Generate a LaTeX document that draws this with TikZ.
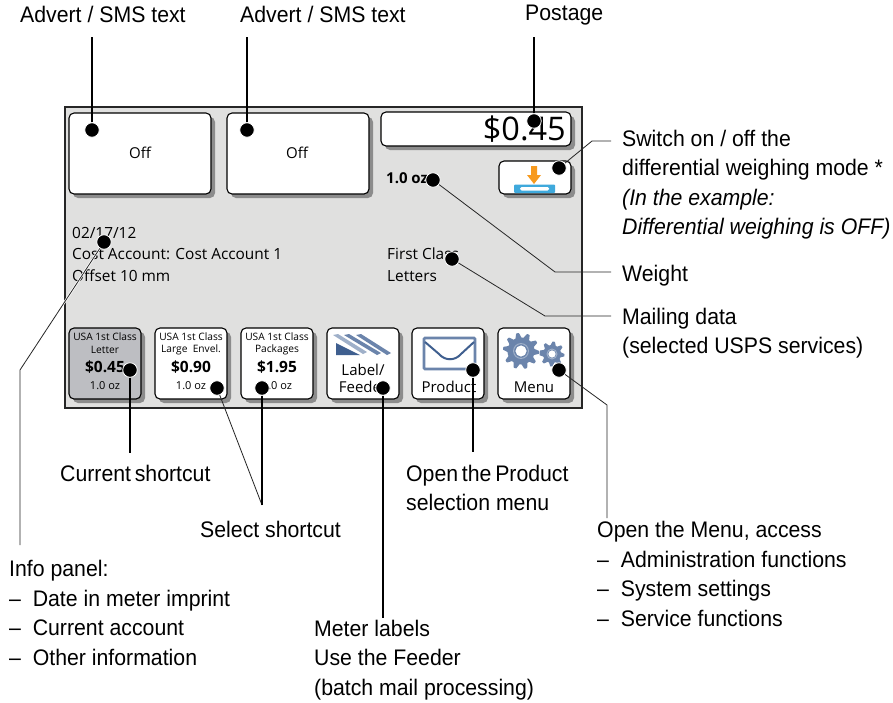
\documentclass[tikz,border=0pt]{standalone}
\usepackage{fontspec}
\setmainfont{Liberation Sans}
\newfontfamily\labelfont[FakeStretch=0.945]{Liberation Sans}
\newfontfamily\screenfont{Open Sans}
\definecolor{panelgrey}{HTML}{E0E0DF}
\definecolor{shadowgrey}{HTML}{8C8C8C}
\definecolor{selgrey}{HTML}{BDBEC2}
\definecolor{iconblue}{HTML}{6B84AB}
\definecolor{iconlight}{HTML}{9FB0C9}
\definecolor{icondark}{HTML}{3F5F8F}
\definecolor{trayblue}{HTML}{3FA9DC}
\definecolor{arroworange}{HTML}{F79A1E}
\tikzset{
  call/.style={font=\labelfont\fontsize{22.5}{29.5}\selectfont,align=left,inner sep=0pt,anchor=west},
  scr/.style={font=\screenfont\fontsize{#1}{#1}\selectfont,inner sep=0pt},
  scr/.default=14,
  scrb/.style={font=\screenfont\bfseries\fontsize{#1}{#1}\selectfont,inner sep=0pt},
  btn/.style={draw=black,line width=1.1pt,rounded corners=5pt,fill=white},
  shad/.style={fill=shadowgrey,rounded corners=5pt},
  dotmark/.style={circle,fill=black,draw=white,line width=0.8pt,minimum size=14.5pt,inner sep=0pt},
  leadthick/.style={draw=black,line width=1.3pt},
  leadthin/.style={draw=black!85,line width=0.8pt},
}
\newcommand{\sbtn}[5][white]{%
  \fill[shad] (#2+4,#3+4) rectangle (#4+4,#5+4);
  \draw[btn,fill=#1] (#2,#3) rectangle (#4,#5);}
\newcommand{\gearshape}[5]{%
  \fill[iconblue,even odd rule] plot[smooth cycle,tension=0.25,samples=#5*4+1,domain=0:360-360/(#5*4),variable=\a]
    ({#1+(#3-(#3-#4)*(mod(round(\a/(360/(#5*4))),4)>1))*cos(\a)},{#2+(#3-(#3-#4)*(mod(round(\a/(360/(#5*4))),4)>1))*sin(\a)})
    (#1+#4*0.42,#2) arc[start angle=0,end angle=360,radius=#4*0.42];
  \draw[iconlight,line width=1pt] (#1,#2) circle[radius=#4*0.55];}
\begin{document}
\begin{tikzpicture}[x=1pt,y=-1pt]
\useasboundingbox (0,0) rectangle (893,702);
\fill[white] (0,0) rectangle (893,702);
% panel
\draw[fill=panelgrey,draw=black!85,line width=2pt] (65,107) rectangle (582,408);
% top buttons
\sbtn{69}{113}{211}{194}
\sbtn{227}{113}{369}{194}
\sbtn{381}{112}{571}{146}
\sbtn{499}{161}{571}{194}
\node[scr=15] (off1) at (140,153) {Off};
\node[scr=15] (off2) at (297,153) {Off};
\node[scr=32.5,anchor=east] (postage) at (566,129) {\$0.45};
% weigh icon
\fill[arroworange] (531,166) -- (537,166) -- (537,175) -- (541,175) -- (534,184) -- (527,175) -- (531,175) -- cycle;
\fill[trayblue,rounded corners=1pt] (514,184.5) rectangle (555,193);
\fill[white,rounded corners=1.5pt] (520,187) rectangle (549,190.5);
% info
\node[scr=15.4,anchor=west] (date) at (72,233) {02/17/12};
\node[scr=15.4,anchor=west] (acct) at (72,254) {Cost Account: Cost Account 1};
\node[scr=15.4,anchor=west] (offs) at (72,276) {Offset 10 mm};
\node[scrb=15,anchor=west] (wt) at (386,178) {1.0 oz};
\node[scr=15.4,anchor=west] (fc) at (387,254) {First Class};
\node[scr=15.4,anchor=west] (lt) at (387,276) {Letters};
% shortcuts
\sbtn[selgrey]{69}{328}{141}{399}
\sbtn{155}{328}{227}{399}
\sbtn{241}{328}{313}{399}
\sbtn{327}{328}{399}{399}
\sbtn{412}{328}{484}{399}
\sbtn{498}{328}{570}{399}
\node[scr=10.2] (s1a) at (105,337) {USA 1st Class};
\node[scr=10.2] (s1b) at (105,350) {Letter};
\node[scrb=15.5] (s1c) at (105,367) {\$0.45};
\node[scr=11] (s1d) at (105,386) {1.0 oz};
\node[scr=10.2] (s2a) at (191,337) {USA 1st Class};
\node[scr=10.2] (s2b) at (191,350) {Large\ \ Envel.};
\node[scrb=15.5] (s2c) at (191,367) {\$0.90};
\node[scr=11] (s2d) at (191,386) {1.0 oz};
\node[scr=10.2] (s3a) at (277,337) {USA 1st Class};
\node[scr=10.2] (s3b) at (277,350) {Packages};
\node[scrb=15.5] (s3c) at (277,367) {\$1.95};
\node[scr=11] (s3d) at (277,386) {1.0 oz};
% label icon
\fill[iconlight] (333,335) -- (338,334) -- (367,352) -- (363,354) -- cycle;
\fill[iconblue] (344,335) -- (349,334) -- (381,353) -- (377,355) -- cycle;
\fill[iconblue] (356,335) -- (361,334) -- (391,353) -- (387,355) -- cycle;
\fill[icondark] (336,343) -- (336,355) -- (360,355) -- cycle;
\node[scr=15] (lab1) at (363,370) {Label/};
\node[scr=15] (lab2) at (363,387) {Feeder};
% product icon
\draw[iconblue,line width=2.6pt,rounded corners=1pt,fill=white] (424,338) rectangle (475,369);
\draw[icondark,line width=2pt,line join=round] (425,342) -- (439,354) .. controls (445,361) and (455,361) .. (461,354) -- (474,342);
\node[scr=15] (prod) at (449,387) {Product};
% menu icon
\gearshape{521}{351}{18}{13.5}{10}
\gearshape{552}{354}{12.5}{9}{8}
\node[scr=15] (menu) at (534,387) {Menu};
% dots
\node[dotmark] (d1) at (92,130) {};
\node[dotmark] (d2) at (247,130) {};
\node[dotmark] (d3) at (534,121) {};
\node[dotmark] (d4) at (559,168) {};
\node[dotmark] (d5) at (433,180) {};
\node[dotmark] (d6) at (452,259) {};
\node[dotmark] (d7) at (104,242) {};
\node[dotmark] (d8) at (130,370) {};
\node[dotmark] (d9) at (217,388) {};
\node[dotmark] (d10) at (262,388) {};
\node[dotmark] (d11) at (383,388) {};
\node[dotmark] (d12) at (473,370) {};
\node[dotmark] (d13) at (559,370) {};
% callout texts
\node[call] (t1) at (20,14) {Advert / SMS text};
\node[call] (t2) at (240,14) {Advert / SMS text};
\node[call] (t3) at (525,15.5) {Postage};
\node[call] (t4) at (622,184.5) {Switch on / off the\\differential weighing mode *\\{\itshape (In the example:}\\{\itshape Differential weighing is OFF)}};
\node[call] (t5) at (622,275.5) {Weight};
\node[call] (t6) at (622,333) {Mailing data\\(selected USPS services)};
\node[call] (t7) at (60,473) {Current\,shortcut};
\node[call] (t8) at (200,529) {Select shortcut};
\node[call] (t9) at (406,488) {Open\,the\,Product\\selection menu};
\node[call] (t10) at (597,574) {Open the Menu, access\\–\ \ Administration functions\\–\ \ System settings\\–\ \ Service functions};
\node[call] (t11) at (9,613) {Info panel:\\–\ \ Date in meter imprint\\–\ \ Current account\\–\ \ Other information};
\node[call] (t12) at (314,660) {Meter labels\\Use the Feeder\\(batch mail processing)};
% connector ends
\coordinate (e1) at (92,37);
\coordinate (e2) at (247,37);
\coordinate (e3) at (534,37);
\coordinate (b4) at (592,141); \coordinate (e4) at (611,141);
\coordinate (b5) at (555,272); \coordinate (e5) at (611,272);
\coordinate (b6) at (545,316); \coordinate (e6) at (611,316);
\coordinate (b7) at (20,370); \coordinate (e7) at (20,545);
\coordinate (e8) at (130,453);
\coordinate (e9) at (262,505);
\coordinate (e10) at (262,505);
\coordinate (e11) at (383,618);
\coordinate (e12) at (473,452);
\coordinate (b13) at (607,405); \coordinate (e13) at (607,518);
% connectors
\draw[leadthick] (d1) -- (e1);
\draw[leadthick] (d2) -- (e2);
\draw[leadthick] (d3) -- (e3);
\draw[leadthin] (d4) -- (b4) -- (e4);
\draw[leadthin] (d5) -- (b5) -- (e5);
\draw[leadthin] (d6) -- (b6) -- (e6);
\draw[leadthin,preaction={draw=white,line width=2.2pt}] (d7) -- (b7) -- (e7);
\draw[leadthick] (d8) -- (e8);
\draw[leadthin] (d9) -- (e9);
\draw[leadthick] (d10) -- (e10);
\draw[leadthick] (d11) -- (e11);
\draw[leadthick] (d12) -- (e12);
\draw[leadthin] (d13) -- (b13) -- (e13);
\end{tikzpicture}
\end{document}
